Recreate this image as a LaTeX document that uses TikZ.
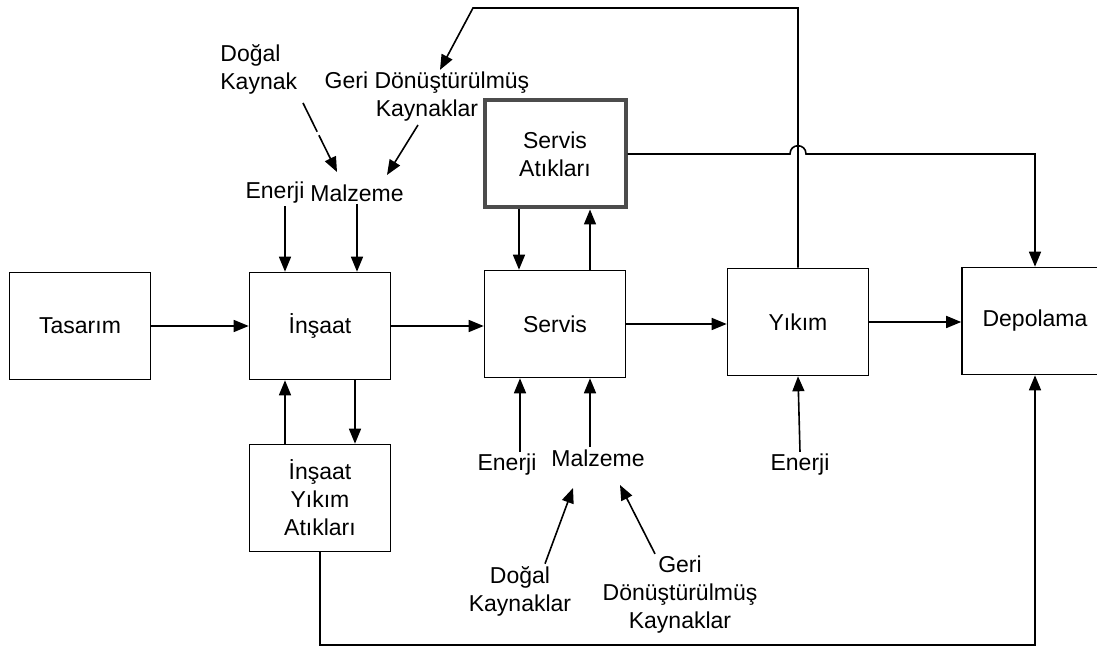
\documentclass[tikz,border=0pt]{standalone}
\usepackage{fontspec}
\setmainfont{Liberation Sans}
\usetikzlibrary{positioning, arrows.meta, calc}

\begin{document}
\begin{tikzpicture}[
  x=0.5pt, y=-0.5pt,
  font=\fontsize{11.5}{14}\selectfont,
  box/.style={draw, line width=0.8pt, minimum width=70.5pt,
    minimum height=53.5pt, align=center, inner sep=0pt},
  wbox/.style={box, line width=2pt, draw=black!70},
  lbl/.style={align=center, inner sep=1pt},
  arrow/.style={-{Triangle[length=7.5pt,width=6pt]}, line width=0.8pt},
]
  \useasboundingbox (0,0) rectangle (1097,651);

  % Life-cycle stages
  \node[box] (tas) at (80,326) {Tasarım};
  \node[box] (ins) at (320,326) {İnşaat};
  \node[box] (serv) at (555,324) {Servis};
  \node[box] (yik) at (798,322) {Yıkım};
  \node[box, minimum width=73pt] (dep) at (1035,321) {Depolama};

  % Waste boxes
  \node[wbox] (sat) at (555,154) {Servis\\Atıkları};
  \node[box] (iya) at (320,498) {İnşaat\\Yıkım\\Atıkları};

  % Inputs above construction
  \node[lbl, align=left, anchor=west] (dk1) at (218,69) {Doğal\\Kaynak};
  \node[lbl] (gdk1) at (427,97) {Geri Dönüştürülmüş\\Kaynaklar};
  \node[lbl] (en1) at (275,193) {Enerji};
  \node[lbl] (mz1) at (357,193) {Malzeme};

  % Inputs below service and demolition
  \node[lbl] (en2) at (507,465) {Enerji};
  \node[lbl] (mz2) at (598,458) {Malzeme};
  \node[lbl] (dk2) at (520,591) {Doğal\\Kaynaklar};
  \node[lbl] (gdk2) at (680,595) {Geri\\Dönüştürülmüş\\Kaynaklar};
  \node[lbl] (en3) at (800,465) {Enerji};

  \coordinate (dk1s) at (303,103);
  \coordinate (mz1a) at (337,172);
  \coordinate (gdk1s) at (418,125);
  \coordinate (mz1b) at (387,175);
  \coordinate (mz2a) at (573,488);
  \coordinate (mz2b) at (620,485);
  \coordinate (fbk) at (473,8);
  \coordinate (jl) at ($(sat.east -| yik.north)+(-8,0)$);
  \coordinate (jr) at ($(sat.east -| yik.north)+(8,0)$);

  % Main flow
  \draw[arrow] (tas.east) -- (tas.east -| ins.west);
  \draw[arrow] (ins.east) -- (ins.east -| serv.west);
  \draw[arrow] (serv.east) -- (serv.east -| yik.west);
  \draw[arrow] (yik.east) -- (yik.east -| dep.west);

  % Construction inputs and waste
  \draw[arrow] ([xshift=5pt]en1.south) -- ([xshift=5pt]en1.south |- ins.north);
  \draw[arrow] (mz1.south) -- (mz1.south |- ins.north);
  \draw[arrow, dash pattern=on 16pt off 2pt] (dk1s) -- (mz1a);
  \draw[arrow] (gdk1s) -- (mz1b);
  \draw[arrow] ([xshift=-17.5pt]iya.north) -- ([xshift=-17.5pt]ins.south);
  \draw[arrow] ([xshift=17.5pt]ins.south) -- ([xshift=17.5pt]iya.north);

  % Service inputs and waste
  \draw[arrow] ([xshift=-18pt]sat.south) -- ([xshift=-18pt]serv.north);
  \draw[arrow] ([xshift=17.5pt]serv.north) -- ([xshift=17.5pt]sat.south);
  \draw[arrow] ([xshift=6.5pt]en2.north) -- ([xshift=6.5pt]en2.north |- serv.south);
  \draw[arrow] ([xshift=-4pt]mz2.north) -- ([xshift=-4pt]mz2.north |- serv.south);
  \draw[arrow] ([xshift=12.5pt]dk2.north) -- (mz2a);
  \draw[arrow] ([xshift=-12.5pt]gdk2.north) -- (mz2b);

  % Demolition input
  \draw[arrow] (en3.north) -- (yik.south);

  % Recycling and storage links
  \draw[arrow] (yik.north) |- (fbk) -- ([xshift=6.5pt]gdk1.north);
  \draw[arrow] (sat.east) -- (jl) .. controls +(0,-11) and +(0,-11) .. (jr)
    -| (dep.north);
  \draw[arrow] (iya.south) |- (dep.south |- 0,645) -- (dep.south);
\end{tikzpicture}
\end{document}
